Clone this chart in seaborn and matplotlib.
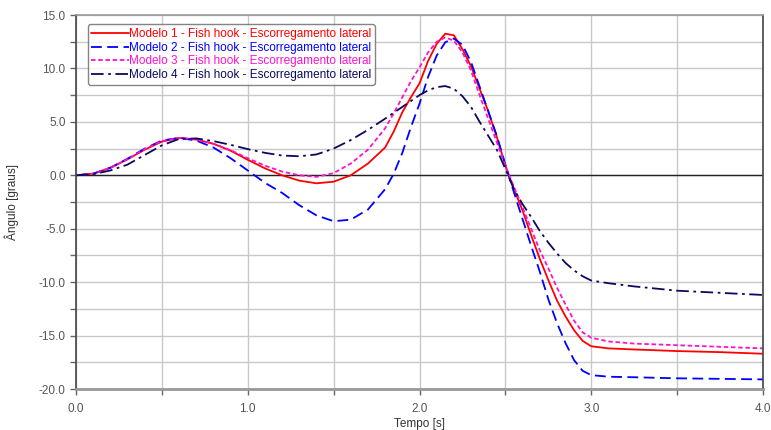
import numpy as np
import pandas as pd
import matplotlib
matplotlib.use("Agg")
import matplotlib.pyplot as plt
import seaborn as sns
from matplotlib.ticker import MultipleLocator, FormatStrFormatter

# tempo [s]
tempo = [0.0, 0.1, 0.2, 0.3, 0.4, 0.5, 0.6, 0.7, 0.8, 0.9, 1.0, 1.1, 1.2, 1.3, 1.4, 1.5, 1.6, 1.7, 1.8,
         1.85, 1.9, 1.95, 2.0, 2.05, 2.1, 2.15, 2.2, 2.25, 2.3, 2.35, 2.4, 2.45, 2.5, 2.55, 2.6, 2.65, 2.7,
         2.75, 2.8, 2.85, 2.9, 2.95, 3.0, 3.1, 3.25, 3.5, 3.75, 4.0]

modelo1 = [0, 0.15, 0.7, 1.5, 2.4, 3.15, 3.5, 3.35, 2.95, 2.3, 1.45, 0.65, 0.0, -0.5, -0.75, -0.6, 0.0, 1.1, 2.6,
           4.1, 5.9, 7.3, 8.6, 10.7, 12.3, 13.25, 13.1, 11.8, 10.2, 8.1, 6.0, 3.6, 0.9, -1.3, -3.3, -5.6, -7.8,
           -9.8, -11.7, -13.2, -14.5, -15.5, -16.0, -16.2, -16.3, -16.45, -16.55, -16.7]

modelo2 = [0, 0.15, 0.7, 1.55, 2.5, 3.25, 3.5, 3.25, 2.6, 1.6, 0.45, -0.7, -1.65, -2.8, -3.75, -4.3, -4.15, -3.2, -1.3,
           0.15, 2.1, 4.5, 6.7, 9.2, 11.2, 12.45, 12.8, 12.2, 10.6, 8.3, 6.0, 3.7, 1.0, -1.6, -4.1, -6.6, -9.0,
           -11.6, -13.8, -15.7, -17.3, -18.3, -18.7, -18.85, -18.9, -19.0, -19.05, -19.1]

modelo3 = [0, 0.15, 0.7, 1.5, 2.45, 3.2, 3.5, 3.35, 2.95, 2.35, 1.6, 0.9, 0.35, 0.0, -0.15, 0.2, 1.1, 2.4, 4.4,
           5.8, 7.3, 8.8, 10.1, 11.5, 12.5, 12.9, 12.6, 11.5, 9.8, 7.5, 5.3, 3.1, 0.9, -1.1, -3.0, -5.0, -7.0,
           -8.7, -10.5, -12.1, -13.6, -14.7, -15.2, -15.55, -15.75, -15.9, -16.05, -16.2]

modelo4 = [0, 0.1, 0.45, 1.0, 1.9, 2.8, 3.4, 3.45, 3.2, 2.85, 2.45, 2.1, 1.85, 1.78, 1.95, 2.5, 3.3, 4.25, 5.3,
           5.85, 6.4, 6.95, 7.5, 7.95, 8.25, 8.35, 8.1, 7.4, 6.4, 5.0, 3.7, 2.4, 0.6, -1.3, -2.7, -3.9, -5.2,
           -6.3, -7.3, -8.2, -8.9, -9.45, -9.85, -10.1, -10.4, -10.8, -11.0, -11.2]

nomes = ["Modelo 1 - Fish hook - Escorregamento lateral",
         "Modelo 2 - Fish hook - Escorregamento lateral",
         "Modelo 3 - Fish hook - Escorregamento lateral",
         "Modelo 4 - Fish hook - Escorregamento lateral"]
cores = ["#ff0000", "#0000ff", "#ff11cc", "#0a0a5e"]
estilos = ["-", (0, (6, 3)), (0, (2.5, 1.5)), (0, (7, 2.5, 1.5, 2.5))]

sns.set_theme(style="white")
plt.rcParams["font.family"] = ["Liberation Sans", "DejaVu Sans"]

fig = plt.figure(figsize=(7.71, 4.30), dpi=100)
ax = fig.add_axes([76 / 771, 1 - 389 / 430, 687 / 771, 374 / 430])

for serie, nome, cor, ls in zip([modelo1, modelo2, modelo3, modelo4], nomes, cores, estilos):
    sns.lineplot(x=tempo, y=serie, ax=ax, color=cor, linestyle=ls, linewidth=1.3, label=nome)

ax.set_xlim(0, 4)
ax.set_ylim(-20, 15)
ax.xaxis.set_major_locator(MultipleLocator(1.0))
ax.xaxis.set_minor_locator(MultipleLocator(0.5))
ax.yaxis.set_major_locator(MultipleLocator(5.0))
ax.yaxis.set_minor_locator(MultipleLocator(2.5))
ax.xaxis.set_major_formatter(FormatStrFormatter("%.1f"))
ax.yaxis.set_major_formatter(FormatStrFormatter("%.1f"))
ax.grid(True, which="both", color="#c8c8c8", linewidth=1)
ax.axhline(0, color="#222222", linewidth=1, zorder=1.5)

ax.tick_params(axis="both", which="both", direction="out", length=4, width=1,
               colors="#666666", labelsize=8.5, labelcolor="#555555", left=True, bottom=True)
ax.tick_params(axis="x", pad=6)

for lado, cor, lw in [("left", "#444444", 1.2), ("bottom", "#999999", 2), ("top", "#999999", 1.2), ("right", "#444444", 1.2)]:
    ax.spines[lado].set_color(cor)
    ax.spines[lado].set_linewidth(lw)

ax.set_xlabel("Tempo [s]", fontsize=8.5, color="#333333", labelpad=2)
ax.set_ylabel("Ângulo [graus]", fontsize=8.5, color="#333333", labelpad=14)

leg = ax.legend(loc="upper left", bbox_to_anchor=(0.017, 0.975), borderaxespad=0, fontsize=8.5,
                handlelength=3.2, handletextpad=0.0, borderpad=0.3, labelspacing=0.15,
                frameon=True, fancybox=True)
leg.get_frame().set_edgecolor("#666666")
leg.get_frame().set_linewidth(1)
for txt, cor in zip(leg.get_texts(), cores):
    txt.set_color(cor)

fig.savefig("out.png", dpi=100)
